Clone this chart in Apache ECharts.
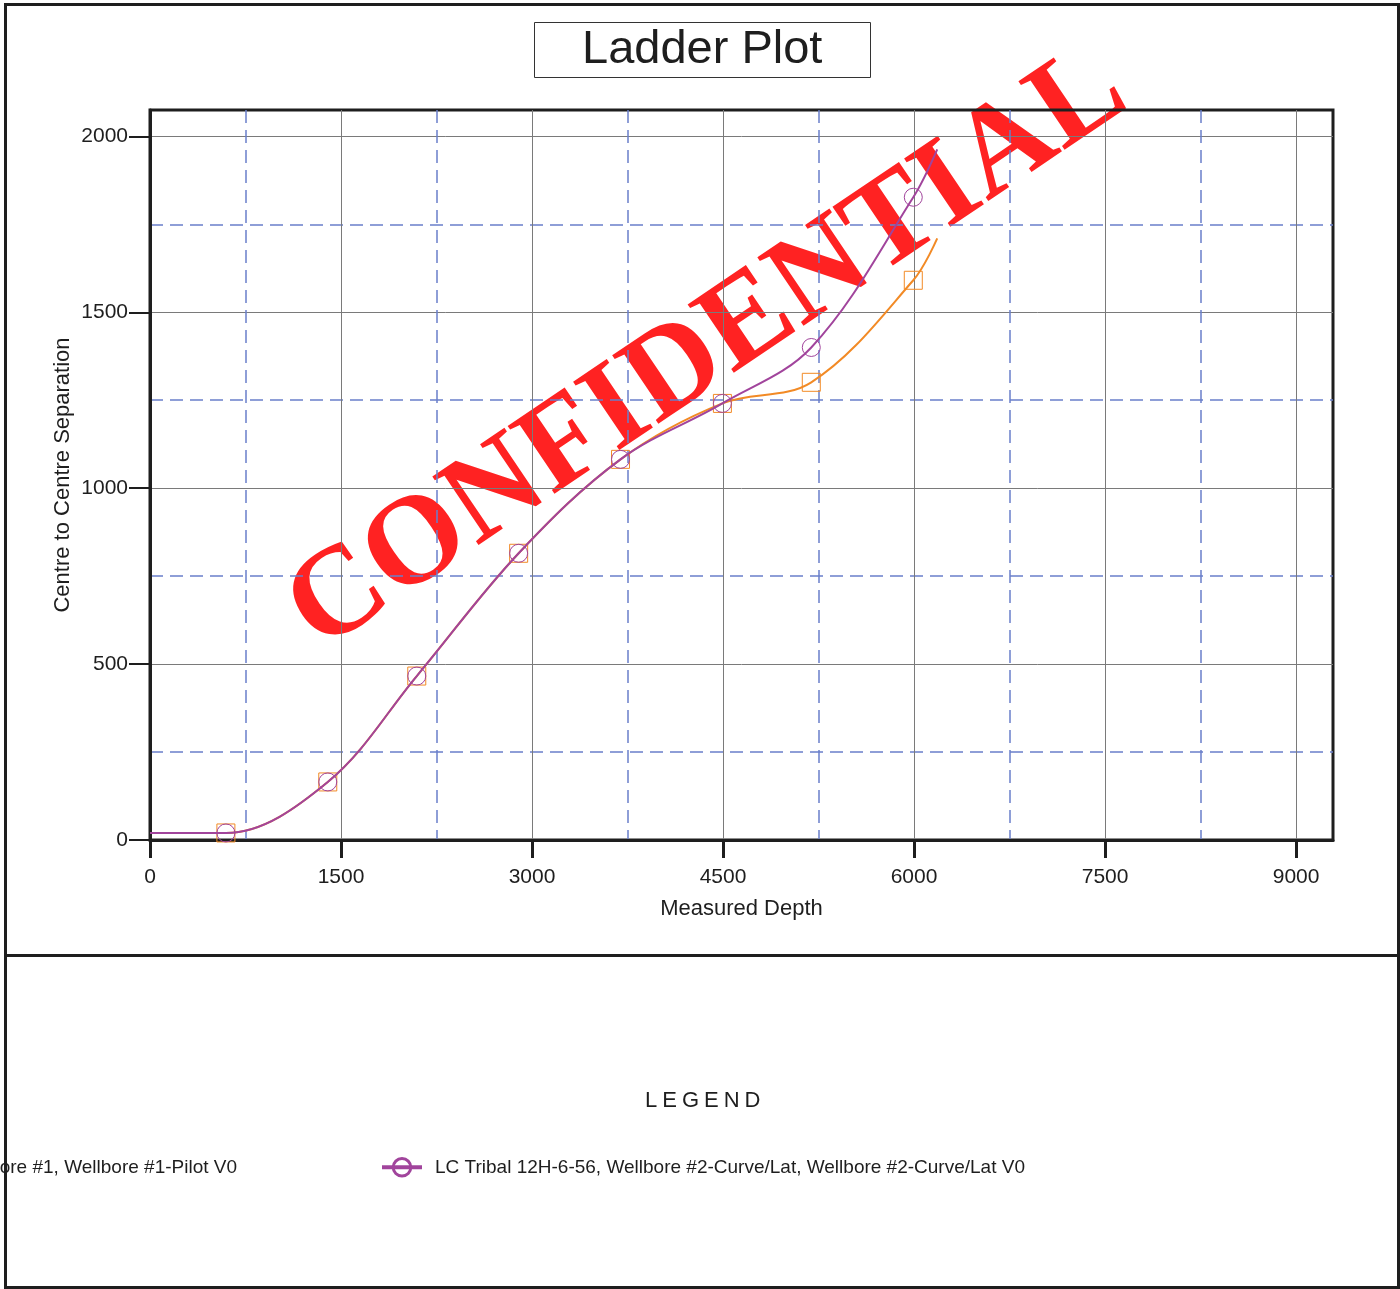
<!DOCTYPE html>
<html>
<head>
<meta charset="utf-8">
<title>Ladder Plot</title>
<script src="https://cdn.jsdelivr.net/npm/echarts@6/dist/echarts.min.js"></script>
<style>
  html, body { margin: 0; padding: 0; background: #fff; }
  #main { width: 1400px; height: 1289px; }
</style>
</head>
<body>
<div id="main"></div>
<script>
// stations (measured depth / centre to centre separation)
var pilotDepth = [0, 596, 1396, 2095, 2895, 3695, 4495, 5193, 5994, 6182];
var pilotSep = [20, 20, 165, 466, 815, 1082, 1241, 1301, 1591, 1710];
var lateralDepth = [0, 596, 1396, 2095, 2895, 3695, 4495, 5193, 5994, 6182];
var lateralSep = [20, 20, 165, 466, 815, 1082, 1241, 1400, 1827, 1963];
// first and last station are only curve ends, no marker
var markerShown = [false, true, true, true, true, true, true, true, true, false];

var depthTicks = [0, 1500, 3000, 4500, 6000, 7500, 9000];
var depthMinor = [750, 2250, 3750, 5250, 6750, 8250];
var sepTicks = [0, 500, 1000, 1500, 2000];
var sepMinor = [250, 750, 1250, 1750];

var pilotName = "LC Tribal 12H-6-56, Wellbore #1, Wellbore #1-Pilot V0";
var lateralName = "LC Tribal 12H-6-56, Wellbore #2-Curve/Lat, Wellbore #2-Curve/Lat V0";

var FONT = "'Liberation Sans', Arial, sans-serif";
var INK = "#1e1e1e";
var ORANGE = "#f28a25";
var PURPLE = "#a1449c";
var DASH = "#6a7fca";

var chartDom = document.getElementById("main");
var myChart = echarts.init(chartDom);

function toPoints(xs, ys) {
  var pts = [];
  for (var i = 0; i < xs.length; i++) {
    var p = { value: [xs[i], ys[i]] };
    if (!markerShown[i]) p.symbol = "none";
    pts.push(p);
  }
  return pts;
}

// spaced out "LEGEND" heading
function spaced(str) {
  var out = "";
  for (var i = 0; i < str.length; i++) {
    out += "{" + (i === 0 ? "f" : "s") + "|" + str[i] + "}";
  }
  return out;
}

// plain numbers, no thousands separator
var plain = function (v) { return String(v); };

var legendCommon = {
  orient: "horizontal",
  top: 1157,
  padding: 0,
  itemWidth: 40,
  itemHeight: 22,
  selectedMode: false,
  lineStyle: { width: 4 },
  itemStyle: { borderWidth: 3 },
  textStyle: { fontSize: 19, fontFamily: FONT, color: INK, padding: [0, 0, 0, 8] }
};

var option = {
  backgroundColor: "#fff",
  animation: false,
  title: [
    {
      text: "Ladder Plot",
      left: 534,
      top: 22,
      padding: [3, 48, 3, 48],
      borderWidth: 1,
      borderColor: "#333",
      textStyle: { fontSize: 47, fontWeight: "normal", fontFamily: FONT, color: INK, lineHeight: 50 }
    },
    {
      text: spaced("LEGEND"),
      left: 645,
      top: 1090,
      padding: 0,
      textStyle: {
        fontWeight: "normal",
        rich: {
          f: { fontSize: 22, fontWeight: "normal", fontFamily: FONT, color: INK },
          s: { fontSize: 22, fontWeight: "normal", fontFamily: FONT, color: INK, padding: [0, 0, 0, 5] }
        }
      }
    }
  ],
  legend: [
    echarts.util.merge({ data: [pilotName], right: 1163 }, legendCommon, false),
    echarts.util.merge({ data: [lateralName], left: 380 }, legendCommon, false)
  ],
  grid: {
    left: 150,
    right: 67,
    top: 110,
    bottom: 449,
    show: true,
    borderColor: INK,
    borderWidth: 3
  },
  xAxis: [
    {
      type: "value",
      min: 0,
      max: 9290,
      position: "bottom",
      name: "Measured Depth",
      nameLocation: "middle",
      nameGap: 58,
      nameTextStyle: { fontSize: 22, fontFamily: FONT, color: INK },
      axisLine: { show: true, onZero: false, lineStyle: { color: INK, width: 3 } },
      axisTick: { show: true, length: 18, customValues: depthTicks, lineStyle: { color: INK, width: 3 } },
      axisLabel: { customValues: depthTicks, formatter: plain, margin: 27, fontSize: 21, fontFamily: FONT, color: INK },
      splitLine: { show: true, lineStyle: { color: "#7a7a7a", width: 1 } }
    },
    {
      type: "value",
      min: 0,
      max: 9290,
      position: "bottom",
      axisLine: { show: false },
      axisTick: { show: false, customValues: depthMinor },
      axisLabel: { show: false, customValues: depthMinor },
      splitLine: { show: true, lineStyle: { color: DASH, width: 1.5, type: [13, 7] } }
    }
  ],
  yAxis: [
    {
      type: "value",
      min: 0,
      max: 2075,
      position: "left",
      name: "Centre to Centre Separation",
      nameLocation: "middle",
      nameGap: 76,
      nameMoveOverlap: false,
      nameTextStyle: { fontSize: 22, fontFamily: FONT, color: INK },
      axisLine: { show: true, onZero: false, lineStyle: { color: INK, width: 3 } },
      axisTick: { show: true, length: 21, customValues: sepTicks, lineStyle: { color: INK, width: 2 } },
      axisLabel: { customValues: sepTicks, formatter: plain, margin: 22, fontSize: 21, fontFamily: FONT, color: INK },
      splitLine: { show: true, lineStyle: { color: "#7a7a7a", width: 1 } }
    },
    {
      type: "value",
      min: 0,
      max: 2075,
      position: "left",
      axisLine: { show: false },
      axisTick: { show: false, customValues: sepMinor },
      axisLabel: { show: false, customValues: sepMinor },
      splitLine: { show: true, lineStyle: { color: DASH, width: 1.5, type: [13, 7] } }
    }
  ],
  graphic: [
    {
      type: "text",
      x: 708,
      y: 351,
      rotation: 34 * Math.PI / 180,
      z: -10,
      silent: true,
      style: {
        text: "CONFIDENTIAL",
        fill: "#ff2222",
        fontSize: 126,
        fontWeight: "bold",
        fontFamily: "'Liberation Serif', 'Times New Roman', serif",
        align: "center",
        verticalAlign: "middle"
      }
    },
    {
      type: "rect",
      z: 100,
      silent: true,
      shape: { x: 5.5, y: 4.5, width: 1393, height: 1283 },
      style: { fill: "none", stroke: INK, lineWidth: 3 }
    },
    {
      type: "line",
      z: 100,
      silent: true,
      shape: { x1: 5, y1: 955.5, x2: 1398, y2: 955.5 },
      style: { stroke: INK, lineWidth: 3 }
    }
  ],
  series: [
    {
      name: pilotName,
      type: "line",
      xAxisIndex: 0,
      yAxisIndex: 0,
      data: toPoints(pilotDepth, pilotSep),
      smooth: 0.35,
      symbol: "rect",
      symbolSize: 18,
      showAllSymbol: true,
      lineStyle: { color: ORANGE, width: 2 },
      itemStyle: { color: "rgba(0,0,0,0)", borderColor: ORANGE, borderWidth: 1 },
      emphasis: { disabled: true },
      z: 3
    },
    {
      name: lateralName,
      type: "line",
      xAxisIndex: 0,
      yAxisIndex: 0,
      data: toPoints(lateralDepth, lateralSep),
      smooth: 0.35,
      symbol: "circle",
      symbolSize: 18,
      showAllSymbol: true,
      lineStyle: { color: PURPLE, width: 2 },
      itemStyle: { color: "rgba(0,0,0,0)", borderColor: PURPLE, borderWidth: 1 },
      emphasis: { disabled: true },
      z: 4
    }
  ]
};

if (option && typeof option === "object") {
  myChart.setOption(option);
}
window.onresize = function () {
  myChart.resize();
};
</script>
</body>
</html>
